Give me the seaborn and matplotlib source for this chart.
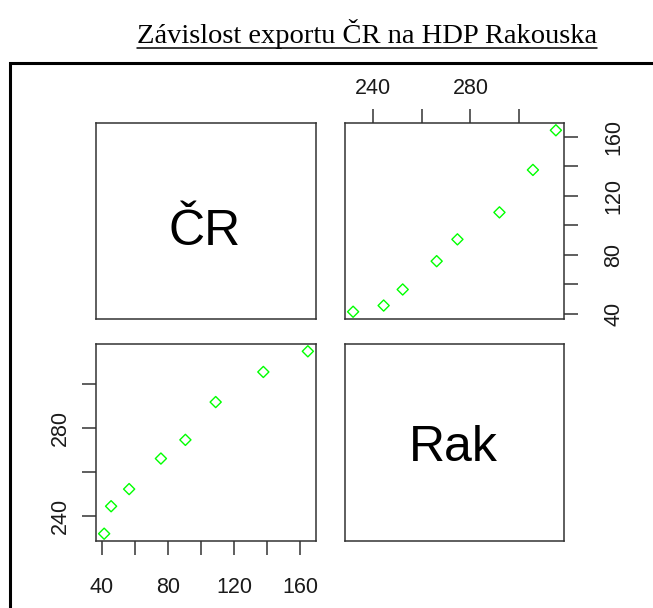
import matplotlib
matplotlib.use('Agg')
import matplotlib.pyplot as plt
import seaborn as sns
import pandas as pd
from matplotlib.lines import Line2D
from matplotlib.patches import Rectangle

# export CR vs HDP Rakouska
cr = [41.4, 45.6, 56.5, 75.7, 90.5, 108.8, 137.6, 164.5]
rak = [232.0, 244.5, 252.3, 266.2, 274.7, 291.9, 305.6, 315.0]
var_names = ['ČR', 'Rak']

cr_ticks = [40, 60, 80, 100, 120, 140, 160]
cr_ticklabels = ['40', '', '80', '', '120', '', '160']
rak_ticks = [240, 260, 280, 300]
rak_ticklabels = ['240', '', '280', '']

title = 'Závislost exportu ČR na HDP Rakouska'

data = pd.DataFrame({'ČR': cr, 'Rak': rak})

sns.set_style('white')
plt.rcParams['font.family'] = ['Liberation Sans', 'DejaVu Sans']

W, H = 653, 608
fig = plt.figure(figsize=(W / 100, H / 100), dpi=100)
PT = 0.72  # px -> pt at 100 dpi


def px_axes(x0, y0, x1, y1):
    return fig.add_axes([x0 / W, 1 - y1 / H, (x1 - x0) / W, (y1 - y0) / H])


def pad_range(v):
    lo, hi = min(v), max(v)
    d = (hi - lo) * 0.04
    return lo - d, hi + d


def frame(ax):
    for s in ax.spines.values():
        s.set_visible(True)
        s.set_color('#333333')
        s.set_linewidth(1.1)
    ax.set_xlabel('')
    ax.set_ylabel('')


ax_tl = px_axes(96, 123, 316, 319)
ax_tr = px_axes(345, 123, 564, 319)
ax_bl = px_axes(96, 344, 316, 541)
ax_br = px_axes(345, 344, 564, 541)

# diagonal panels only hold the variable names
for ax in (ax_tl, ax_br):
    frame(ax)
    ax.set_xticks([])
    ax.set_yticks([])
fig.text(205 / W, 1 - 245 / H, var_names[0], ha='center', va='baseline', fontsize=36, color='black')
fig.text(453 / W, 1 - 461 / H, var_names[1], ha='center', va='baseline', fontsize=36, color='black')

point_kws = dict(marker='D', s=32, facecolor='none', edgecolor='#00ff00', linewidth=1.0, legend=False)

# upper: x = Rak, y = ČR
sns.scatterplot(data=data, x='Rak', y='ČR', ax=ax_tr, **point_kws)
# lower: x = ČR, y = Rak
sns.scatterplot(data=data, x='ČR', y='Rak', ax=ax_bl, **point_kws)

for ax in (ax_tr, ax_bl):
    frame(ax)

ax_tr.set_xlim(pad_range(rak))
ax_tr.set_ylim(pad_range(cr))
ax_bl.set_xlim(pad_range(cr))
ax_bl.set_ylim(pad_range(rak))

tick_kws = dict(length=14 * PT, width=1.1, color='#333333', labelcolor='#1a1a1a', labelsize=15.5, direction='out')

ax_tr.set_xticks(rak_ticks, rak_ticklabels)
ax_tr.set_yticks(cr_ticks, ['40', '', '80', '', '120', '', '160'])
ax_tr.xaxis.set_ticks_position('top')
ax_tr.yaxis.set_ticks_position('right')
ax_tr.tick_params(axis='x', top=True, bottom=False, labeltop=True, labelbottom=False, pad=10.5 * PT, **tick_kws)
ax_tr.tick_params(axis='y', right=True, left=False, labelright=True, labelleft=False, pad=25 * PT, **tick_kws)
plt.setp(ax_tr.get_yticklabels(), rotation=90, va='center')

ax_bl.set_xticks(cr_ticks, cr_ticklabels)
ax_bl.set_yticks(rak_ticks, rak_ticklabels)
ax_bl.tick_params(axis='x', bottom=True, top=False, pad=22 * PT, **tick_kws)
ax_bl.tick_params(axis='y', left=True, right=False, pad=11.5 * PT, **tick_kws)
plt.setp(ax_bl.get_yticklabels(), rotation=90, va='center')

# outer frame, runs off the right and bottom edges
fig.add_artist(Rectangle((10 / W, 1 - 700 / H), 690 / W, 637 / H, transform=fig.transFigure,
                         fill=False, edgecolor='black', linewidth=2.2))

# underlined title
t = fig.text(137 / W, 1 - 43 / H, title, ha='left', va='baseline', fontsize=20.5,
             family=['Liberation Serif', 'DejaVu Serif'], color='black')
fig.canvas.draw()
bb = t.get_window_extent()
uy = 1 - 47.5 / H
fig.add_artist(Line2D([bb.x0 / W, bb.x1 / W], [uy, uy], transform=fig.transFigure, color='black', linewidth=1.1))

fig.savefig('out.png', dpi=100)
